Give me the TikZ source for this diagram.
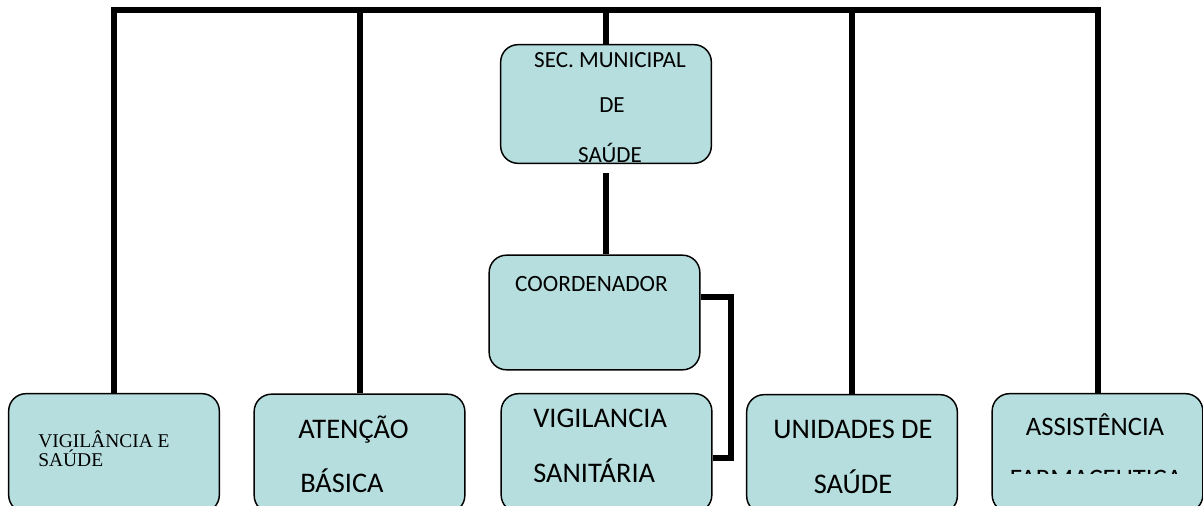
\documentclass[tikz,border=0pt]{standalone}
\usepackage{fontspec}
\setmainfont{Carlito}
\newfontfamily\timesfont{Liberation Serif}
\usetikzlibrary{positioning}
\definecolor{boxfill}{RGB}{183,222,222}
\tikzset{
    chart/.style={x=0.75pt,y=-0.75pt,line join=miter},
    unit/.style={rectangle,rounded corners=13pt,draw,line width=1.1pt,
                 fill=boxfill,minimum width=158pt,minimum height=89pt,inner sep=0pt},
    link/.style={line width=4.5pt},
    lbl/.style={inner sep=0pt,anchor=base,font=\fontsize{21.3}{25}\selectfont},
    smalllbl/.style={lbl,font=\fontsize{17.3}{20}\selectfont},
    seriflbl/.style={inner sep=0pt,anchor=base west,font=\timesfont\fontsize{14.6}{16}\selectfont},
    }

\begin{document}
\begin{tikzpicture}[chart]
    \useasboundingbox (0,0) rectangle (1203,506);
    \clip (0,0) rectangle (1203,506);
    \coordinate (top) at (605,10);
    \coordinate (bend) at (731,297);
    \coordinate (low) at (731,458);

    % boxes
    \node[unit] (sec) at (606,104) {};
    \node[unit, minimum height=86pt] (coord) at (594.5,312.5) {};
    \node[unit] (vs) at (114,453) {};
    \node[unit] (ab) at (359.5,453.5) {};
    \node[unit] (vsan) at (606.5,453) {};
    \node[unit] (us) at (852,454) {};
    \node[unit] (af) at (1097.5,453) {};

    % lines
    \draw[link] (vs.north) -- (vs.north |- top) -- (af.north |- top) -- (af.north);
    \draw[link] (ab.north) -- (ab.north |- top);
    \draw[link] (sec.north) -- (sec.north |- top);
    \draw[link] (us.north) -- (us.north |- top);
    \draw[link, shorten <=7pt] (sec.south) -- (sec.south |- coord.north);
    \draw[link] (coord.east |- bend) -- (bend) -- (low) -- (vsan.east |- low);

    % texts
    \node[smalllbl] (sec1) at (610,68) {SEC. MUNICIPAL};
    \node[smalllbl] (sec2) at (612,113) {DE};
    \node[smalllbl] (sec3) at (610,163) {SAÚDE};
    \node[smalllbl, font=\fontsize{17.5}{20}\selectfont] (coordt) at (591.5,291) {COORDENADOR};
    \node[seriflbl] (vs1) at (38,447) {VIGILÂNCIA E};
    \node[seriflbl] (vs2) at (38,466) {SAÚDE};
    \node[lbl, anchor=base west] (ab1) at (298,438) {ATENÇÃO};
    \node[lbl, anchor=base west] (ab2) at (300,492) {BÁSICA};
    \node[lbl, anchor=base west] (vsan1) at (533,427) {VIGILANCIA};
    \node[lbl, anchor=base west] (vsan2) at (533,482) {SANITÁRIA};
    \node[lbl] (us1) at (853,438) {UNIDADES DE};
    \node[lbl] (us2) at (853,493) {SAÚDE};
    \node[lbl, font=\fontsize{20}{24}\selectfont] (af1) at (1095,435) {ASSISTÊNCIA};
    \begin{scope}
        \clip (990,469) rectangle (1200,473);
        \node[lbl, font=\fontsize{20}{24}\selectfont] (af2) at (1096,487) {FARMACÊUTICA};
    \end{scope}
\end{tikzpicture}
\end{document}
